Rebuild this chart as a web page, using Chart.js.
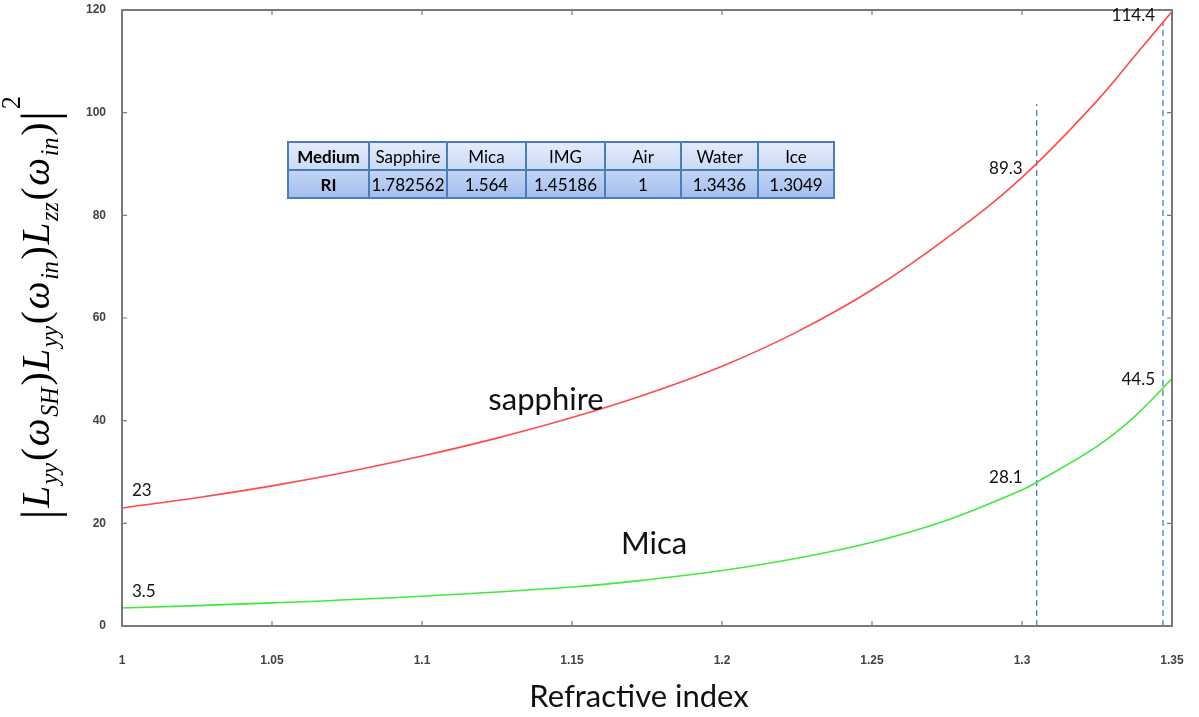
<!DOCTYPE html>
<html>
<head>
<meta charset="utf-8">
<script src="https://cdn.jsdelivr.net/npm/chart.js@4.4.1/dist/chart.umd.min.js"></script>
<style>
  html, body { margin: 0; padding: 0; background: #fff; }
  #wrap { position: relative; width: 1199px; height: 717px; }
  #chart { position: absolute; left: 0; top: 0; }
  table.ri {
    position: absolute; left: 287px; top: 141px; width: 546px;
    table-layout: fixed; border-collapse: collapse;
    font-family: Lato, sans-serif; font-size: 17px; color: #000;
  }
  table.ri td { border: 2px solid #4a7ebb; height: 26px; padding: 0; text-align: center; white-space: nowrap; }
  table.ri tr.hd td { background: linear-gradient(#e4ecfb, #cbdaf6); }
  table.ri tr.rw td { background: linear-gradient(#c3d5f5, #a3bdec); }
  table.ri td.b { font-weight: bold; }
</style>
</head>
<body>
<div id="wrap">
  <canvas id="chart" width="1199" height="717"></canvas>
  <table class="ri" id="ritable"></table>
</div>
<script>
// refractive index axis
const xTickValues = [1, 1.05, 1.1, 1.15, 1.2, 1.25, 1.3, 1.35];
const xTickLabels = ['1', '1.05', '1.1', '1.15', '1.2', '1.25', '1.3', '1.35'];
const yTickValues = [0, 20, 40, 60, 80, 100, 120];

// sapphire curve
const sapphireX = [1.0, 1.025, 1.05, 1.075, 1.1, 1.125, 1.15, 1.175, 1.2, 1.225, 1.25, 1.275, 1.3, 1.325, 1.3375, 1.35];
const sapphireY = [23.0, 25.0, 27.3, 30.0, 33.1, 36.6, 40.6, 45.2, 50.6, 57.3, 65.5, 75.6, 87.4, 102.3, 111.0, 119.7];

// mica curve
const micaX = [1.0, 1.05, 1.1, 1.15, 1.175, 1.2, 1.225, 1.25, 1.275, 1.3, 1.3049, 1.325, 1.3375, 1.35];
const micaY = [3.5, 4.5, 5.8, 7.6, 9.0, 10.8, 13.2, 16.3, 20.6, 26.5, 28.0, 35.0, 40.8, 48.2];

// vertical dashed markers: x and top y
const markerX = [1.0, 1.3049, 1.347];
const markerTop = [30, 101.7, 117.5];

// value labels: text, x, y
const valueLabels = [
  ['23', 1.0, 23], ['3.5', 1.0, 3.5],
  ['89.3', 1.3049, 89.3], ['28.1', 1.3049, 28.1],
  ['114.4', 1.347, 114.4], ['44.5', 1.347, 44.5]
];

// medium table
const mediums = ['Sapphire', 'Mica', 'IMG', 'Air', 'Water', 'Ice'];
const riValues = ['1.782562', '1.564', '1.45186', '1', '1.3436', '1.3049'];

const colWidths = [81, 78, 79, 79, 76, 77, 76];
const tbl = document.getElementById('ritable');
tbl.innerHTML =
  '<colgroup>' + colWidths.map(w => '<col style="width:' + w + 'px">').join('') + '</colgroup>' +
  '<tr class="hd"><td class="b">Medium</td>' + mediums.map(m => '<td>' + m + '</td>').join('') + '</tr>' +
  '<tr class="rw"><td class="b">RI</td>' + riValues.map(v => '<td>' + v + '</td>').join('') + '</tr>';

const toPts = (xs, ys) => xs.map((x, i) => ({ x, y: ys[i] }));

const markerSets = markerX.map((x, i) => ({
  data: [{ x, y: 0 }, { x, y: markerTop[i] }],
  borderColor: '#4a7ebb',
  borderWidth: 1.3,
  borderDash: [6, 4],
  pointRadius: 0,
  showLine: true
}));

// draws the frame, inward ticks, titles and labels
const decor = {
  id: 'decor',
  afterDraw(chart) {
    const { ctx, chartArea: a, scales: { x, y } } = chart;
    ctx.save();
    ctx.strokeStyle = '#7a7a7a';
    ctx.lineWidth = 2;
    ctx.strokeRect(a.left, a.top, a.right - a.left, a.bottom - a.top);
    ctx.lineWidth = 1.2;
    ctx.beginPath();
    xTickValues.forEach(v => {
      const px = x.getPixelForValue(v);
      ctx.moveTo(px, a.bottom); ctx.lineTo(px, a.bottom - 5);
      ctx.moveTo(px, a.top); ctx.lineTo(px, a.top + 5);
    });
    yTickValues.forEach(v => {
      const py = y.getPixelForValue(v);
      ctx.moveTo(a.left, py); ctx.lineTo(a.left + 5, py);
      ctx.moveTo(a.right, py); ctx.lineTo(a.right - 5, py);
    });
    ctx.stroke();

    // value labels
    ctx.fillStyle = '#111';
    ctx.font = '17px Lato, sans-serif';
    ctx.textBaseline = 'middle';
    valueLabels.forEach(([t, vx, vy]) => {
      const px = x.getPixelForValue(vx), py = y.getPixelForValue(vy);
      if (vx === 1.0) {
        ctx.textAlign = 'left';
        ctx.fillText(t, px + 10, py - 17);
      } else if (vx > 1.34) {
        ctx.textAlign = 'right';
        ctx.fillText(t, px - 8, py - (vy > 100 ? 23 : 18));
      } else {
        ctx.textAlign = 'right';
        ctx.fillText(t, px - 14, py + (vy > 50 ? 1 : -4));
      }
    });

    // series names
    ctx.textAlign = 'center';
    ctx.font = '31px Lato, sans-serif';
    ctx.fillText('sapphire', 546, 400);
    ctx.fillText('Mica', 654, 544);

    // x title
    ctx.fillText('Refractive index', 639, 697);

    drawYTitle(ctx, 49, 307, 425);
    ctx.restore();
  }
};

function drawYTitle(ctx, bx, cy, len) {
  const serif = '"Liberation Serif", "DejaVu Serif", serif';
  const fnt = s => (s.it ? 'italic ' : '') + s.size + 'px ' + serif;
  const parts = [
    { t: '|', size: 46, dy: 6 },
    { t: 'L', size: 36, it: 1 }, { t: 'yy', size: 22, it: 1, dy: 8 },
    { t: '(', size: 36 }, { t: 'ω', size: 36, it: 1 }, { t: 'SH', size: 22, it: 1, dy: 8 }, { t: ')', size: 36 },
    { t: 'L', size: 36, it: 1 }, { t: 'yy', size: 22, it: 1, dy: 8 },
    { t: '(', size: 36 }, { t: 'ω', size: 36, it: 1 }, { t: 'in', size: 22, it: 1, dy: 8 }, { t: ')', size: 36 },
    { t: 'L', size: 36, it: 1 }, { t: 'zz', size: 22, it: 1, dy: 8 },
    { t: '(', size: 36 }, { t: 'ω', size: 36, it: 1 }, { t: 'in', size: 22, it: 1, dy: 8 }, { t: ')', size: 36 },
    { t: '|', size: 46, dy: 6 }, { t: '2', size: 24, dy: -26 }
  ];
  let w = 0;
  parts.forEach(p => { ctx.font = fnt(p); p.w = ctx.measureText(p.t).width + 1.5; w += p.w; });
  const s = len / w;
  ctx.save();
  ctx.translate(bx, cy);
  ctx.rotate(-Math.PI / 2);
  ctx.scale(s, s);
  ctx.fillStyle = '#000';
  ctx.textAlign = 'left';
  ctx.textBaseline = 'alphabetic';
  let cx = -w / 2;
  parts.forEach(p => {
    ctx.font = fnt(p);
    ctx.fillText(p.t, cx, p.dy || 0);
    cx += p.w;
  });
  ctx.restore();
}

new Chart(document.getElementById('chart'), {
  type: 'scatter',
  data: {
    datasets: [
      {
        label: 'sapphire',
        data: toPts(sapphireX, sapphireY),
        borderColor: '#ff4a4a',
        borderWidth: 1.6,
        pointRadius: 0,
        showLine: true,
        tension: 0.4
      },
      {
        label: 'Mica',
        data: toPts(micaX, micaY),
        borderColor: '#3fea3f',
        borderWidth: 1.6,
        pointRadius: 0,
        showLine: true,
        tension: 0.4
      },
      ...markerSets
    ]
  },
  options: {
    responsive: false,
    animation: false,
    layout: { padding: { left: 0, top: 10, right: 27, bottom: 0 } },
    plugins: { legend: { display: false }, tooltip: { enabled: false } },
    scales: {
      x: {
        type: 'linear', min: 1, max: 1.35,
        afterBuildTicks: s => { s.ticks = xTickValues.map(v => ({ value: v })); },
        afterFit: s => { s.height = 91; s.paddingLeft = 0; s.paddingRight = 0; },
        grid: { display: false, drawTicks: false },
        border: { display: false },
        ticks: {
          padding: 27, maxRotation: 0, autoSkip: false,
          color: '#4a4040', font: { family: '"Liberation Sans", Arial', size: 12, weight: 'bold' },
          callback: v => xTickLabels[xTickValues.indexOf(v)] ?? ''
        }
      },
      y: {
        min: 0, max: 120,
        afterBuildTicks: s => { s.ticks = yTickValues.map(v => ({ value: v })); },
        afterFit: s => { s.width = 122; s.paddingTop = 0; s.paddingBottom = 0; },
        grid: { display: false, drawTicks: false },
        border: { display: false },
        ticks: {
          padding: 16,
          color: '#4a4040', font: { family: '"Liberation Sans", Arial', size: 12, weight: 'bold' }
        }
      }
    }
  },
  plugins: [decor]
});
</script>
</body>
</html>
